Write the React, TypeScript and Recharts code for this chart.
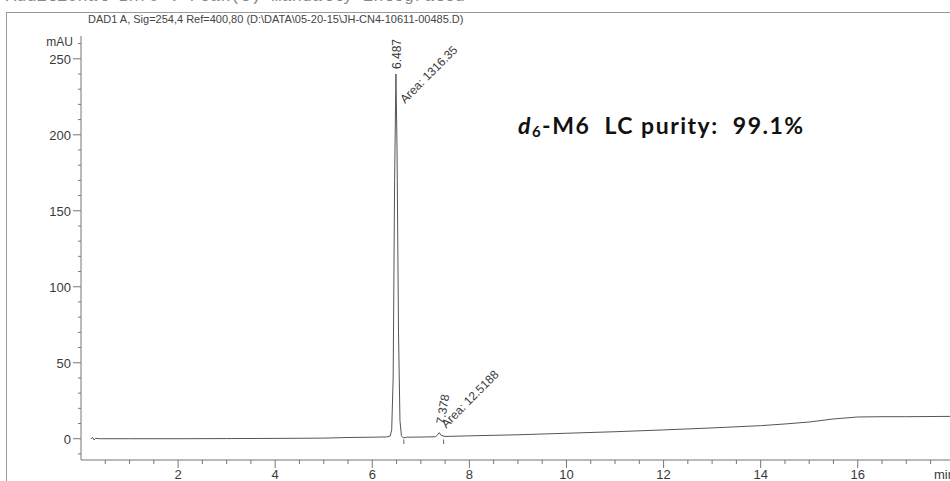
import React from "react";
import { LineChart, Line, XAxis, YAxis, ReferenceDot, ReferenceLine } from "recharts";

// DAD1 A trace, retention time (min) vs absorbance (mAU)
const times = [
  0.2, 0.24, 0.27, 0.3, 0.4, 1, 2, 3, 4, 5, 5.5, 6, 6.3, 6.37, 6.4, 6.43, 6.46, 6.487,
  6.51, 6.54, 6.57, 6.6, 6.64, 6.7, 7, 7.3, 7.34, 7.378, 7.42, 7.5, 8, 9, 10, 11, 12,
  13, 14, 14.5, 15, 15.5, 16, 16.5, 17, 17.9,
];
const mAU = [
  0, 0.8, -0.8, 0.2, 0, 0, 0, 0.1, 0.2, 0.4, 0.8, 1.0, 1.2, 1.8, 6, 40, 170, 240,
  190, 70, 12, 2, 0.5, 1.0, 1.1, 1.3, 2.4, 4.0, 2.2, 1.5, 1.9, 2.6, 3.6, 4.6, 5.8,
  7.1, 8.6, 9.7, 11, 13, 14.3, 14.5, 14.5, 14.7,
];

const peakTimes = [6.487, 7.378];
const peakHeights = [240, 4];
const peakAreas = ["1316.35", "12.5188"];
const integrationMarks = [6.65, 7.47];

const xTicks = [
  0.5, 1, 1.5, 2, 2.5, 3, 3.5, 4, 4.5, 5, 5.5, 6, 6.5, 7, 7.5, 8, 8.5, 9, 9.5, 10,
  10.5, 11, 11.5, 12, 12.5, 13, 13.5, 14, 14.5, 15, 15.5, 16, 16.5, 17, 17.5,
];
const yTicks = [
  -10, 0, 10, 20, 30, 40, 50, 60, 70, 80, 90, 100, 110, 120, 130, 140, 150, 160, 170,
  180, 190, 200, 210, 220, 230, 240, 250, 260,
];

const data = times.map((t, i) => ({ t, v: mAU[i] }));

const FONT = "'Liberation Sans', Arial, sans-serif";
const INK = "#3a3a3a";
const AXIS = "#777";

const XTick = (props: any) => {
  const { x, y, payload } = props;
  const major = payload.value % 2 === 0;
  return (
    <g>
      <line x1={x} x2={x} y1={y} y2={y + (major ? 8 : 4)} stroke={AXIS} />
      {major && (
        <text x={x} y={y + 19} textAnchor="middle" fontSize={13} fill={INK} fontFamily={FONT}>
          {payload.value}
        </text>
      )}
    </g>
  );
};

const YTick = (props: any) => {
  const { x, y, payload } = props;
  const major = payload.value % 50 === 0;
  return (
    <g>
      <line x1={major ? x - 8 : x - 3} x2={x} y1={y} y2={y} stroke={AXIS} />
      {major && (
        <text x={x - 10} y={y + 5} textAnchor="end" fontSize={13} fill={INK} fontFamily={FONT}>
          {payload.value}
        </text>
      )}
    </g>
  );
};

const PeakLabel = ({ viewBox, idx }: any) => {
  const cx = viewBox.x;
  const cy = viewBox.y;
  const big = idx === 0;
  const rtX = cx + 5;
  const rtY = big ? cy - 5 : cy - 8;
  const arX = big ? cx + 9 : cx + 7;
  const arY = big ? cy + 30 : cy - 4;
  return (
    <g fontFamily={FONT} fontSize={12} fill={INK}>
      <text x={rtX} y={rtY} transform={`rotate(${big ? -90 : -80} ${rtX} ${rtY})`}>
        {peakTimes[idx].toFixed(3)}
      </text>
      <text x={arX} y={arY} transform={`rotate(-45 ${arX} ${arY})`}>
        {"Area: " + peakAreas[idx]}
      </text>
    </g>
  );
};

export default function App() {
  return (
    <div style={{ position: "absolute", left: 0, top: 0, width: 950, height: 481, overflow: "hidden", background: "#fff" }}>
      <div
        style={{
          position: "absolute", left: 6, top: -13, fontFamily: "'Liberation Mono', monospace",
          fontSize: 17, color: "#888", whiteSpace: "pre",
        }}
      >
        Additional Info : Peak(s) manually integrated
      </div>
      <div style={{ position: "absolute", left: 6, top: 12, width: 960, height: 480, borderLeft: "1px solid #999", borderTop: "1px solid #999" }} />
      <div style={{ position: "absolute", left: 88, top: 13, fontFamily: FONT, fontSize: 11, color: "#444", whiteSpace: "pre" }}>
        DAD1 A, Sig=254,4 Ref=400,80 (D:\DATA\05-20-15\JH-CN4-10611-00485.D)
      </div>
      <div
        style={{
          position: "absolute", left: 518, top: 111, fontFamily: "Lato, 'Open Sans', sans-serif",
          fontWeight: 700, fontSize: 23, letterSpacing: 1.5, color: "#111", whiteSpace: "pre",
        }}
      >
        <i>d</i>
        <sub style={{ fontSize: "0.65em", verticalAlign: "-0.2em" }}>6</sub>-M6  LC purity:  99.1%
      </div>
      <LineChart width={950} height={481} data={data} margin={{ top: 36, right: 0, left: 0, bottom: 0 }}>
        <XAxis
          type="number"
          dataKey="t"
          domain={[0, 17.9]}
          ticks={xTicks}
          interval={0}
          height={21}
          tickSize={0}
          tickMargin={0}
          tickLine={false}
          tick={<XTick />}
          axisLine={{ stroke: AXIS }}
          label={{
            content: (p: any) => (
              <text x={934} y={p.viewBox.y + 19} fontSize={13} fill={INK} fontFamily={FONT}>
                min
              </text>
            ),
          }}
        />
        <YAxis
          type="number"
          domain={[-14, 265]}
          ticks={yTicks}
          interval={0}
          width={81}
          tickSize={0}
          tickMargin={0}
          tickLine={false}
          tick={<YTick />}
          axisLine={{ stroke: AXIS }}
          label={{
            content: (p: any) => (
              <text x={p.viewBox.x + p.viewBox.width - 8} y={p.viewBox.y + 10} textAnchor="end" fontSize={12} fill={INK} fontFamily={FONT}>
                mAU
              </text>
            ),
          }}
        />
        <Line type="linear" dataKey="v" stroke="#555" strokeWidth={1} dot={false} isAnimationActive={false} />
        {integrationMarks.map((m) => (
          <ReferenceLine key={m} segment={[{ x: m, y: -0.5 }, { x: m, y: -3.5 }]} stroke="#666" />
        ))}
        {peakTimes.map((pt, i) => (
          <ReferenceDot
            key={pt}
            x={pt}
            y={peakHeights[i]}
            r={0}
            fill="none"
            stroke="none"
            label={{ content: (p: any) => <PeakLabel {...p} idx={i} /> }}
          />
        ))}
      </LineChart>
    </div>
  );
}
